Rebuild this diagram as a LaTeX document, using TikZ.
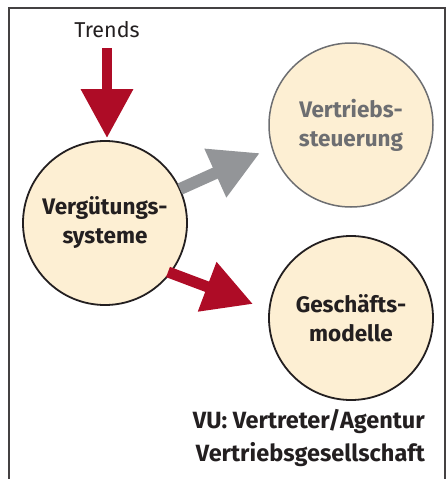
\documentclass[tikz,border=0pt]{standalone}
\usepackage{fontspec}
\setmainfont{Fira Sans}
\usetikzlibrary{arrows.meta}
\definecolor{cream}{HTML}{FDEFD3}
\definecolor{darkred}{HTML}{AE0C26}
\definecolor{arrgray}{HTML}{939598}
\definecolor{txtgray}{HTML}{6D6E71}
\definecolor{ink}{HTML}{231F20}
\tikzset{
  bubble/.style={circle, fill=cream, draw=ink, line width=1.8pt, minimum size=164pt, inner sep=0pt, align=center, font=\bfseries\fontsize{22.5}{29}\selectfont, text=ink},
  fatarrow/.style={line width=11pt, -{Triangle[length=49pt,width=50pt]}},
}
\begin{document}
\begin{tikzpicture}[x=1pt,y=-1pt]
\useasboundingbox (0,0) rectangle (446,479);
\draw[ink!85, line width=1.3pt] (9,479) -- (9,8) -- (445,8) -- (445,479);
\node[bubble] (verg) at (105,223) {Vergütungs-\\systeme};
\node[bubble, draw=txtgray, text=txtgray, line width=1.5pt] (steu) at (351,125) {Vertriebs-\\steuerung};
\node[bubble] (gesch) at (351,318) {Geschäfts-\\modelle};
\node[font=\fontsize{21.5}{24}\selectfont, text=ink] (trends) at (107,30) {Trends};
\node[font=\bfseries\fontsize{23.5}{33}\selectfont, text=ink, align=right, anchor=east, inner sep=0pt] (vu) at (425,438) {VU: Vertreter/Agentur\\Vertriebsgesellschaft};
\coordinate (t1) at (107,48);
\coordinate (t2) at (107,138);
\coordinate (g0) at (180,189);
\coordinate (g1) at (260,153);
\coordinate (r0) at (168,272);
\coordinate (r1) at (253,304);
\draw[fatarrow, darkred, line width=10pt] (t1) -- (t2);
\draw[fatarrow, arrgray, line width=12pt] (g0) -- (g1);
\draw[fatarrow, darkred] (r0) -- (r1);
\end{tikzpicture}
\end{document}
